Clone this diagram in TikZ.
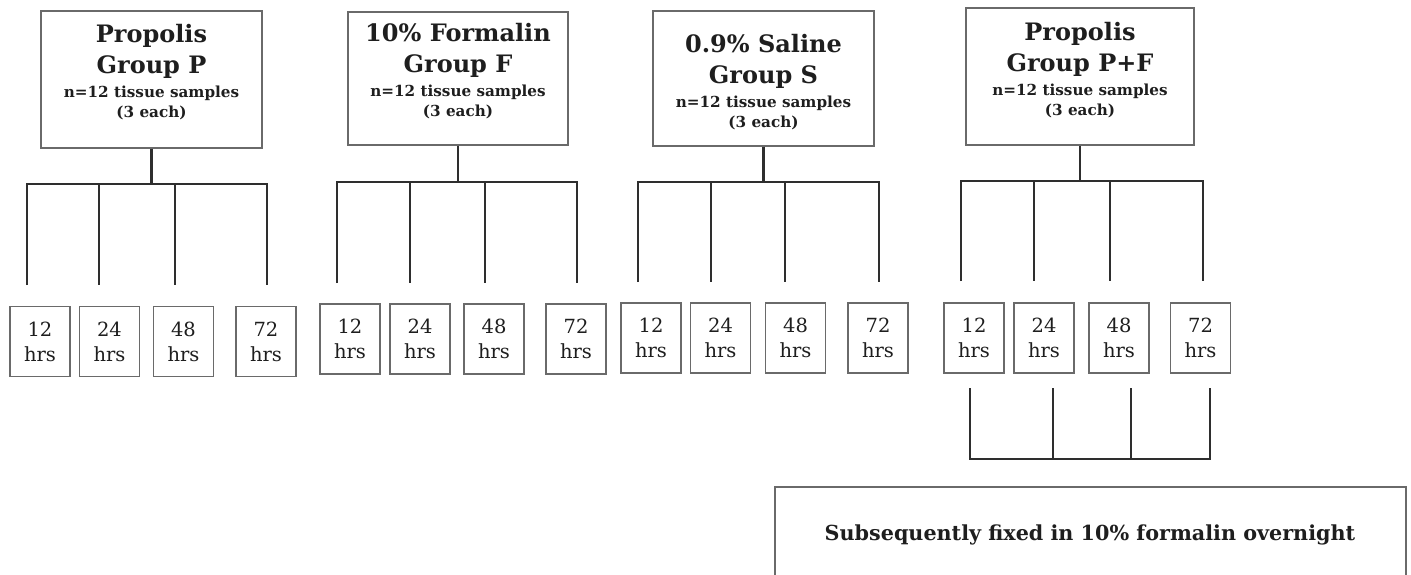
\documentclass[tikz,border=0pt]{standalone}
\usepackage{fontspec}
\setmainfont{DejaVu Serif}
\definecolor{boxc}{HTML}{6A6A6A}
\definecolor{linec}{HTML}{2E2E2E}
\definecolor{txt}{HTML}{1E1E1E}
\begin{document}
\begin{tikzpicture}[x=1pt,y=-1pt,
  grpbox/.style={draw=boxc,line width=1.2pt,inner sep=0pt},
  grptext/.style={align=center,text=txt,inner sep=0pt,anchor=north,
    font=\fontsize{24}{31}\selectfont\bfseries},
  hrsbox/.style={draw=boxc,line width=1.2pt,minimum width=60pt,minimum height=70pt,
    inner sep=0pt,align=center,text=txt,font=\fontsize{19.5}{25}\selectfont},
  conn/.style={draw=linec,line width=2.2pt},
]
\useasboundingbox (0,0) rectangle (1411,574);
\clip (0,0) rectangle (1411,574);
\newcommand{\subl}[1]{{\fontsize{15.2}{20}\selectfont #1}}
% group boxes
\node[grpbox,minimum width=221pt,minimum height=137pt] (gP) at (151.5,79.5) {};
\node[grptext] (tP) at (151.5,24) {Propolis\\Group P\\[-7pt]\subl{n=12 tissue samples}\\[-11pt]\subl{(3 each)}};
\node[grpbox,minimum width=220pt,minimum height=133pt] (gF) at (458,78.5) {};
\node[grptext] (tF) at (458,23) {10\% Formalin\\Group F\\[-7pt]\subl{n=12 tissue samples}\\[-11pt]\subl{(3 each)}};
\node[grpbox,minimum width=221pt,minimum height=135pt] (gS) at (763.5,78.5) {};
\node[grptext] (tS) at (763.5,34) {0.9\% Saline\\Group S\\[-7pt]\subl{n=12 tissue samples}\\[-11pt]\subl{(3 each)}};
\node[grpbox,minimum width=228pt,minimum height=137pt] (gPF) at (1080,76.5) {};
\node[grptext] (tPF) at (1080,22) {Propolis\\Group P+F\\[-7pt]\subl{n=12 tissue samples}\\[-11pt]\subl{(3 each)}};
% branches
\foreach \g/\by/\ey/\xa/\xb/\xc/\xd in {P/184/285/27/99/175/267, F/182/283/337/410/485/577, S/182/282/638/711/785/879, PF/181/281/961/1034/1110/1203} {
  \coordinate (b\g1) at (\xa,\by); \coordinate (e\g1) at (\xa,\ey);
  \coordinate (b\g2) at (\xb,\by); \coordinate (e\g2) at (\xb,\ey);
  \coordinate (b\g3) at (\xc,\by); \coordinate (e\g3) at (\xc,\ey);
  \coordinate (b\g4) at (\xd,\by); \coordinate (e\g4) at (\xd,\ey);
  \draw[conn] (e\g1) -- (b\g1) -- (b\g4) -- (e\g4);
  \draw[conn] (b\g2) -- (e\g2);
  \draw[conn] (b\g3) -- (e\g3);
  \draw[conn] (g\g.south) -- (g\g.south |- b\g1);
}
% hour boxes
\foreach \g/\y/\xa/\xb/\xc/\xd in {P/341.5/40/109.5/183.5/266, F/339/350/420/494/576, S/338/651/720.5/795.5/878, PF/338/974/1044/1119/1200.5} {
  \node[hrsbox] (h\g12) at (\xa,\y) {12\\hrs};
  \node[hrsbox] (h\g24) at (\xb,\y) {24\\hrs};
  \node[hrsbox] (h\g48) at (\xc,\y) {48\\hrs};
  \node[hrsbox] (h\g72) at (\xd,\y) {72\\hrs};
}
% bottom bracket
\coordinate (q1) at (970,388); \coordinate (r1) at (970,459);
\coordinate (q2) at (1053,388); \coordinate (r2) at (1053,459);
\coordinate (q3) at (1131,388); \coordinate (r3) at (1131,459);
\coordinate (q4) at (1210,388); \coordinate (r4) at (1210,459);
\draw[conn] (q1) -- (r1) -- (r4) -- (q4);
\draw[conn] (q2) -- (r2);
\draw[conn] (q3) -- (r3);
% final box
\node[grpbox,minimum width=631pt,minimum height=140pt] (fix) at (1090.5,557) {};
\node[text=txt,inner sep=0pt,anchor=base,font=\fontsize{20.7}{24}\selectfont\bfseries] (fixt) at (1090,540) {Subsequently fixed in 10\% formalin overnight};
\end{tikzpicture}
\end{document}
